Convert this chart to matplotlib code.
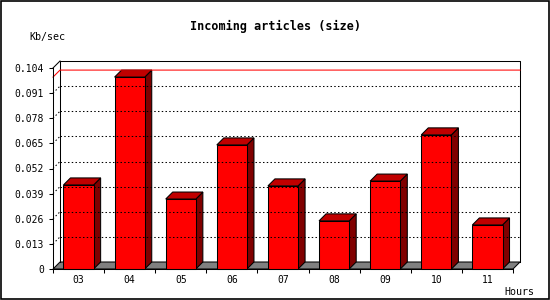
import matplotlib
matplotlib.use("Agg")
import matplotlib.pyplot as plt
from matplotlib.patches import Polygon, Rectangle

hours = ["03", "04", "05", "06", "07", "08", "09", "10", "11"]
kb_sec = [0.0435, 0.0993, 0.0362, 0.0642, 0.0430, 0.0249, 0.0455, 0.0694, 0.0228]
yticks = [0, 0.013, 0.026, 0.039, 0.052, 0.065, 0.078, 0.091, 0.104]

title = "Incoming articles (size)"
ylabel = "Kb/sec"
xlabel = "Hours"

W, H = 550, 300
fig = plt.figure(figsize=(W / 100, H / 100), dpi=100)
fig.patch.set_facecolor("white")

# front plot area in pixels: x 53..513, y 68..269
ax = fig.add_axes([53 / W, (H - 269) / H, 460 / W, 201 / H])
n = len(hours)
ymax = yticks[-1]
ax.set_xlim(0, n)
ax.set_ylim(0, ymax)
ax.patch.set_visible(False)

# 3d depth, 7 px converted to data units
dx = 7 / (460 / n)
dy = 7 / 201 * ymax

mono = "DejaVu Sans Mono"
lw = 0.75

# back wall and left wall outlines
ax.plot([dx, dx, n + dx, n + dx], [dy, ymax + dy, ymax + dy, dy], color="black", lw=lw, clip_on=False)
ax.plot([0, dx], [ymax, ymax + dy], color="black", lw=lw, clip_on=False)

# dotted grid on back wall and left wall
for v in yticks[1:-1]:
    ax.plot([dx, n + dx], [v + dy, v + dy], color="black", lw=lw, ls=(0, (1.4, 2.2)), clip_on=False)
    ax.plot([0, dx], [v, v + dy], color="black", lw=lw, ls=(0, (1.4, 2.2)), clip_on=False)

# max line
vmax = max(kb_sec)
ax.plot([0, dx, n + dx], [vmax, vmax + dy, vmax + dy], color="red", lw=lw, clip_on=False)

# floor
ax.add_patch(Polygon([[0, 0], [dx, dy], [n + dx, dy], [n, 0]], closed=True,
                     facecolor="#808080", edgecolor="black", lw=lw, clip_on=False))

# bars
bw = 0.59
for i, v in enumerate(kb_sec):
    x0 = i + 0.5 - bw / 2
    x1 = x0 + bw
    ax.add_patch(Polygon([[x1, 0], [x1 + dx, dy], [x1 + dx, v + dy], [x1, v]], closed=True,
                         facecolor="#800000", edgecolor="black", lw=lw, clip_on=False))
    ax.add_patch(Polygon([[x0, v], [x0 + dx, v + dy], [x1 + dx, v + dy], [x1, v]], closed=True,
                         facecolor="#c00000", edgecolor="black", lw=lw, clip_on=False))
    ax.add_patch(Rectangle((x0, 0), bw, v, facecolor="#ff0000", edgecolor="black", lw=lw, clip_on=False))

# axes
for s in ["top", "right"]:
    ax.spines[s].set_visible(False)
for s in ["left", "bottom"]:
    ax.spines[s].set_linewidth(lw)
    ax.spines[s].set_zorder(5)

ax.set_yticks(yticks)
ax.set_yticklabels(["0" if v == 0 else f"{v:.3f}" for v in yticks], fontfamily=mono, fontsize=7)
ax.tick_params(axis="y", direction="out", length=3, width=lw, pad=3.5)

ax.set_xticks(range(n + 1))
ax.set_xticklabels([])
ax.set_xticks([i + 0.5 for i in range(n)], minor=True)
ax.set_xticklabels(hours, minor=True, fontfamily=mono, fontsize=7)
ax.tick_params(axis="x", which="major", direction="out", length=3, width=lw)
ax.tick_params(axis="x", which="minor", length=0, pad=4)

fig.text(275 / W, 1 - 26 / H, title, ha="center", va="center", fontfamily=mono,
         fontweight="bold", fontsize=8.5)
fig.text(29 / W, 1 - 37 / H, ylabel, ha="left", va="center", fontfamily=mono, fontsize=7.2)
fig.text(534 / W, 1 - 292 / H, xlabel, ha="right", va="center", fontfamily=mono, fontsize=7.2)

# image border
fig.add_artist(Rectangle((0.5 / W, 1.5 / H), (W - 2) / W, (H - 2) / H, transform=fig.transFigure,
                         fill=False, edgecolor="black", lw=1.2))

fig.savefig("out.png", dpi=100)
